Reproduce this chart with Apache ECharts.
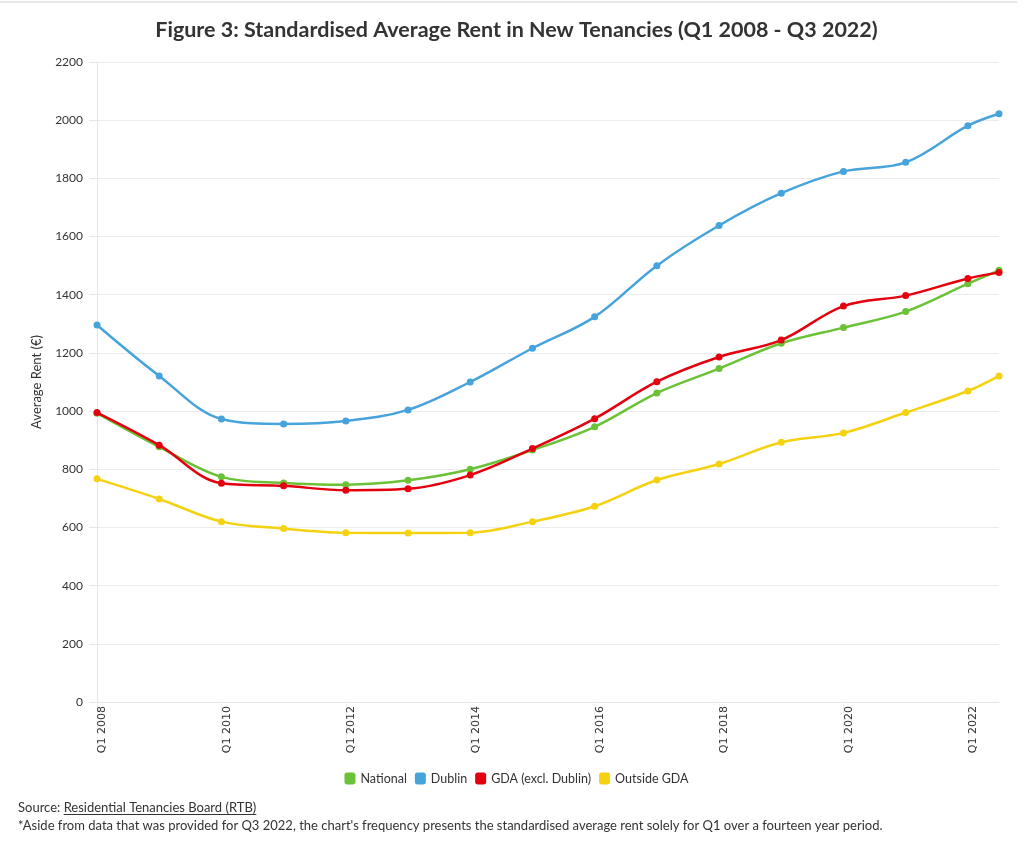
<!DOCTYPE html>
<html>
<head>
<meta charset="utf-8">
<script src="https://cdn.jsdelivr.net/npm/echarts@6/dist/echarts.min.js"></script>
<style>
html,body{margin:0;padding:0;background:#fff;}
#chart{width:1033px;height:850px;}
</style>
</head>
<body>
<div id="chart"></div>
<script>
// x positions in years (Q1 of each year, plus Q3 2022)
const xYears = [2008,2009,2010,2011,2012,2013,2014,2015,2016,2017,2018,2019,2020,2021,2022,2022.5];
const national = [993,877,774,753,747,762,800,866,946,1062,1146,1233,1287,1342,1438,1484];
const dublin   = [1296,1121,973,956,966,1004,1100,1216,1324,1500,1638,1749,1824,1855,1981,2022];
const gda      = [995,883,752,743,728,733,780,871,974,1101,1186,1244,1361,1397,1456,1476];
const outside  = [767,698,620,596,582,581,582,620,673,763,818,893,925,995,1069,1121];
const seriesNames = ['National','Dublin','GDA (excl. Dublin)','Outside GDA'];
const colors = ['#6cc236','#46a3dc','#e3000f','#f5d211'];

const chart = echarts.init(document.getElementById('chart'));
const FONT = 'Lato, "Open Sans", sans-serif';
function pairs(v){ return v.map((y,i)=>[xYears[i], y]); }
const allData = [national, dublin, gda, outside];

const srcPre = 'Source: ';
const srcLink = 'Residential Tenancies Board (RTB)';
const ctx = document.createElement('canvas').getContext('2d');
ctx.font = '13px Lato';
const sw = ctx.measureText(srcPre).width;
const tw = ctx.measureText(srcLink).width;

chart.setOption({
  animation:false,
  color: colors,
  title:{
    text:'Figure 3: Standardised Average Rent in New Tenancies (Q1 2008 - Q3 2022)',
    left:'center', top:14,
    textStyle:{fontFamily:FONT, fontSize:21.5, fontWeight:'bold', color:'#333'}
  },
  legend:{
    top:767, left:'center',
    icon:'roundRect', itemWidth:11, itemHeight:12, itemGap:8,
    textStyle:{fontFamily:FONT, fontSize:12.5, color:'#333'},
    data: seriesNames
  },
  grid:{left:97, right:34, top:62, bottom:148},
  xAxis:{
    type:'value', min:2008, max:2022.5, interval:2,
    axisLine:{lineStyle:{color:'#e6e6e6'}},
    axisTick:{show:true, length:50, lineStyle:{color:'#f0f0f0'}},
    splitLine:{show:false},
    axisLabel:{
      rotate:90, verticalAlign:'top', fontFamily:'"DejaVu Sans", sans-serif', fontSize:11, color:'#333', margin:4,
      showMaxLabel:false,
      formatter: v => (Number.isInteger(v) ? 'Q1 ' + v : '')
    }
  },
  yAxis:{
    type:'value', min:0, max:2200, interval:200,
    name:'Average Rent (€)', nameLocation:'middle', nameGap:54,
    nameTextStyle:{fontFamily:FONT, fontSize:13, color:'#333'},
    axisLine:{show:true, lineStyle:{color:'#e6e6e6'}},
    axisTick:{show:true, length:8, lineStyle:{color:'#e6e6e6'}},
    splitLine:{lineStyle:{color:'#ececec'}},
    axisLabel:{fontFamily:FONT, fontSize:12, color:'#333', margin:14, formatter: v => String(v)}
  },
  series: seriesNames.map((n,i)=>({
    name:n, type:'line', smooth:0.35,
    data: pairs(allData[i]),
    symbol:'circle', symbolSize:7,
    lineStyle:{width:2.5},
    z: i===2 ? 3 : 2
  })),
  graphic:[
    {type:'line', shape:{x1:0,y1:2,x2:1017,y2:2}, style:{stroke:'#e8e8e8', lineWidth:2}},
    {type:'text', x:18, y:801, style:{text:srcPre, font:'13px Lato', fill:'#333'}},
    {type:'text', x:18+sw, y:801, style:{text:srcLink, font:'13px Lato', fill:'#333'}},
    {type:'line', shape:{x1:18+sw, y1:814.5, x2:18+sw+tw, y2:814.5}, style:{stroke:'#333', lineWidth:1}},
    {type:'text', x:18, y:819, style:{text:"*Aside from data that was provided for Q3 2022, the chart's frequency presents the standardised average rent solely for Q1 over a fourteen year period.", font:'13px Lato', fill:'#333'}}
  ]
});
</script>
</body>
</html>
